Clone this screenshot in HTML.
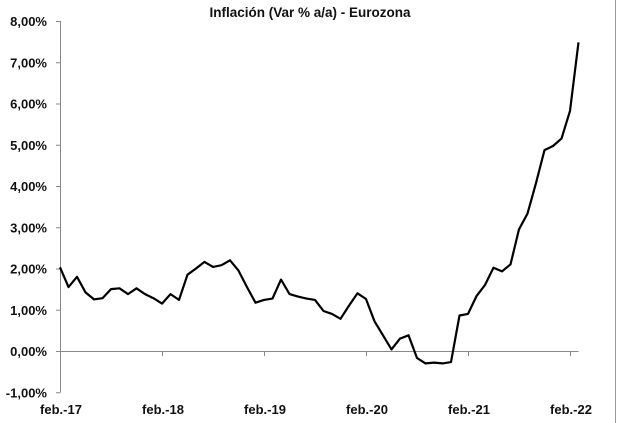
<!DOCTYPE html>
<html><head><meta charset="utf-8"><style>
body{margin:0;background:#fff;}
svg{display:block;font-family:"Liberation Sans",Arial,sans-serif;}
</style></head><body>
<svg id="chart" width="617" height="423" viewBox="0 0 617 423" xmlns="http://www.w3.org/2000/svg">
<rect x="0" y="0" width="617" height="423" fill="#fff"/>
<line x1="615.5" y1="0" x2="615.5" y2="423" stroke="#999"/>
<text x="310" y="17" text-anchor="middle" font-size="13.5" font-weight="bold" fill="#111">Inflación (Var % a/a) - Eurozona</text>
<g id="axes"></g>
<g id="series"></g>
</svg>
<script>
const values = [2.03,1.55,1.8,1.42,1.25,1.28,1.5,1.52,1.38,1.52,1.38,1.28,1.15,1.38,1.24,1.85,2.0,2.16,2.04,2.08,2.2,1.95,1.55,1.17,1.24,1.27,1.73,1.38,1.32,1.27,1.24,0.97,0.9,0.78,1.1,1.4,1.26,0.72,0.38,0.04,0.3,0.38,-0.17,-0.3,-0.28,-0.3,-0.27,0.86,0.9,1.33,1.6,2.02,1.93,2.1,2.95,3.33,4.07,4.87,4.97,5.15,5.82,7.48];
const yTicks = [-1,0,1,2,3,4,5,6,7,8];
const yTickLabels = ["-1,00%","0,00%","1,00%","2,00%","3,00%","4,00%","5,00%","6,00%","7,00%","8,00%"];
const xLabels = ["feb.-17","feb.-18","feb.-19","feb.-20","feb.-21","feb.-22"];
const xLabelIdx = [0,12,24,36,48,60];

const NS="http://www.w3.org/2000/svg";
const x0=60, step=8.5, y0=351, ppu=41.25;
const xs=i=>x0+i*step;
const ys=v=>y0-v*ppu;
const axes=document.getElementById('axes'), series=document.getElementById('series');
function mk(tag,attrs,parent){const e=document.createElementNS(NS,tag);for(const k in attrs)e.setAttribute(k,attrs[k]);parent.appendChild(e);return e;}

let yl=mk('line',{x1:60.5,y1:ys(8),x2:60.5,y2:ys(-1),stroke:'#888','stroke-width':1},axes);


yTicks.forEach((t,i)=>{
  let tk=mk('line',{x1:56,y1:ys(t)+0.5,x2:60.5,y2:ys(t)+0.5,stroke:'#888'},axes);
  
  
  let tx=mk('text',{x:47,y:ys(t)+5,'text-anchor':'end','font-size':'13','font-weight':'bold',fill:'#111'},axes);
  tx.textContent=yTickLabels[i];
  
  
});
let xl=mk('line',{x1:60.5,y1:y0+0.5,x2:xs(values.length-1),y2:y0+0.5,stroke:'#888'},axes);


xLabelIdx.forEach((idx,i)=>{
  if(idx>0){
    let tk=mk('line',{x1:xs(idx)+0.5,y1:y0,x2:xs(idx)+0.5,y2:y0+5,stroke:'#888'},axes);
    
    
  }
  let tx=mk('text',{x:xs(idx)+1,y:414,'text-anchor':'middle','font-size':'13','font-weight':'bold',fill:'#111'},axes);
  tx.textContent=xLabels[i];
  
  
});
let d=values.map((v,i)=>(i?'L':'M')+xs(i).toFixed(1)+' '+ys(v).toFixed(1)).join(' ');
let p=mk('path',{d:d,fill:'none',stroke:'#000','stroke-width':2.2,'stroke-linejoin':'round'},series);


</script>
</body></html>
